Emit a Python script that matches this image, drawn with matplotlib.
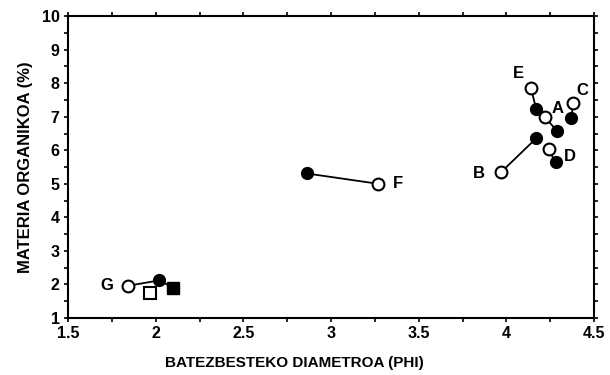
import matplotlib
matplotlib.use("Agg")
import matplotlib.pyplot as plt
from matplotlib.ticker import MultipleLocator

plt.rcParams['font.family'] = ['Liberation Sans', 'DejaVu Sans']
plt.rcParams['font.weight'] = 'bold'

# pairs: (open x, open y, filled x, filled y)
site_labels = ["A", "B", "C", "D", "E", "F", "G"]
open_x   = [4.22, 3.97, 4.38, 4.24, 4.14, 3.27, 1.84]
open_y   = [6.98, 5.35, 7.40, 6.03, 7.85, 5.00, 1.96]
filled_x = [4.29, 4.17, 4.37, 4.28, 4.17, 2.86, 2.02]
filled_y = [6.57, 6.36, 6.95, 5.64, 7.22, 5.31, 2.12]
label_x  = [4.29, 3.84, 4.43, 4.36, 4.07, 3.38, 1.72]
label_y  = [7.26, 5.30, 7.78, 5.82, 8.30, 5.00, 1.98]

sq_open_x, sq_open_y = [1.97], [1.75]
sq_fill_x, sq_fill_y = [2.10], [1.90]

fig = plt.figure(figsize=(6.1, 3.75), dpi=100)
ax = fig.add_axes([0.1115, 0.152, 0.8625, 0.805])

for ox, oy, fx, fy in zip(open_x, open_y, filled_x, filled_y):
    ax.plot([ox, fx], [oy, fy], color='black', lw=1.3, zorder=2)
ax.plot(sq_fill_x + [filled_x[-1]], sq_fill_y + [filled_y[-1]], color='black', lw=1.3, zorder=2)

ax.plot(filled_x, filled_y, 'o', ms=8.5, mfc='black', mec='black', zorder=3)
ax.plot(open_x, open_y, 'o', ms=8.5, mfc='white', mec='black', mew=1.5, zorder=4)
ax.plot(sq_fill_x, sq_fill_y, 's', ms=8, mfc='black', mec='black', zorder=3)
ax.plot(sq_open_x, sq_open_y, 's', ms=8, mfc='white', mec='black', mew=1.5, zorder=4)

for lab, lx, ly in zip(site_labels, label_x, label_y):
    ax.text(lx, ly, lab, fontsize=12, fontweight='bold', ha='center', va='center', zorder=5)

ax.set_xlim(1.5, 4.5)
ax.set_ylim(1, 10)
ax.xaxis.set_minor_locator(MultipleLocator(0.25))
ax.yaxis.set_major_locator(MultipleLocator(1))
ax.yaxis.set_minor_locator(MultipleLocator(0.5))
ax.set_xticks([1.5, 2, 2.5, 3, 3.5, 4, 4.5])
ax.set_xticklabels(["1.5", "2", "2.5", "3", "3.5", "4", "4.5"])
ax.tick_params(which='both', direction='out', top=True, right=True,
               labeltop=False, labelright=False, width=1.2, length=3)
ax.tick_params(labelsize=11.5, pad=3)
for lab in ax.get_xticklabels() + ax.get_yticklabels():
    lab.set_fontweight('bold')
for sp in ax.spines.values():
    sp.set_linewidth(1.5)

ax.set_xlabel("BATEZBESTEKO DIAMETROA (PHI)", fontsize=11, fontweight='bold')
ax.xaxis.set_label_coords(0.43, -0.125)
ax.set_ylabel("MATERIA ORGANIKOA (%)", fontsize=12, fontweight='bold', labelpad=6)

fig.savefig("out.png", dpi=100)
